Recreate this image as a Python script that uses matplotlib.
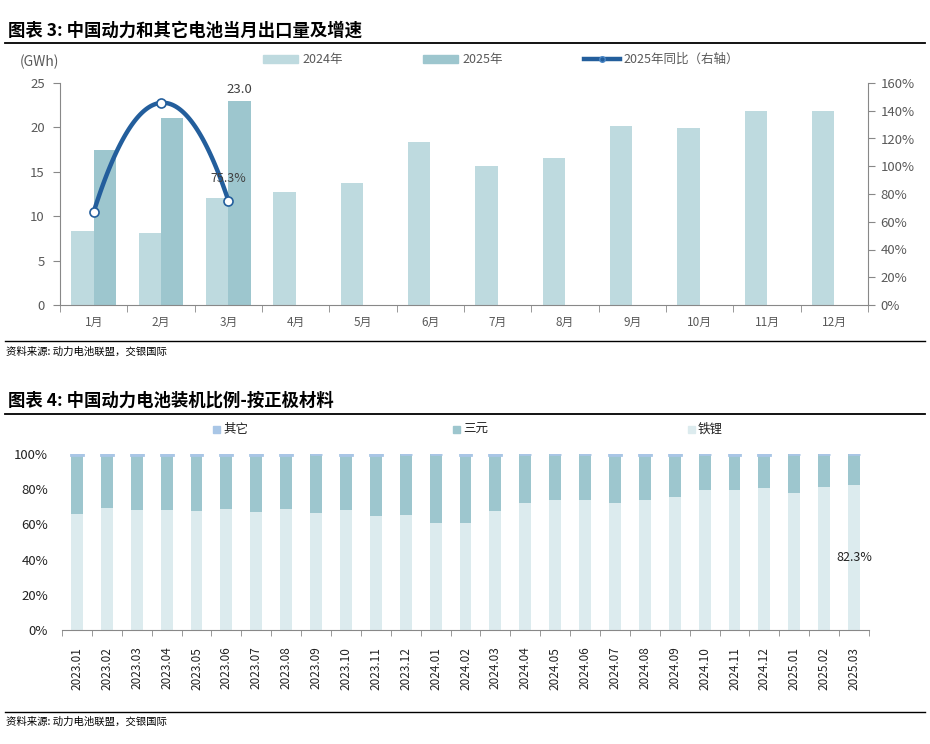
import numpy as np
import matplotlib
matplotlib.use("Agg")
import matplotlib.pyplot as plt
from matplotlib.patches import Rectangle
from matplotlib.lines import Line2D

plt.rcParams['font.family'] = ['Noto Sans CJK SC', 'DejaVu Sans']

# ---------------- data ----------------
months = ['1月', '2月', '3月', '4月', '5月', '6月', '7月', '8月', '9月', '10月', '11月', '12月']
exp_2024 = [8.3, 8.1, 12.1, 12.7, 13.7, 18.4, 15.6, 16.6, 20.2, 19.9, 21.9, 21.9]
exp_2025 = [17.5, 21.1, 23.0]
yoy_2025 = [67.0, 145.7, 75.3]

periods = ['2023.01', '2023.02', '2023.03', '2023.04', '2023.05', '2023.06', '2023.07',
           '2023.08', '2023.09', '2023.10', '2023.11', '2023.12', '2024.01', '2024.02',
           '2024.03', '2024.04', '2024.05', '2024.06', '2024.07', '2024.08', '2024.09',
           '2024.10', '2024.11', '2024.12', '2025.01', '2025.02', '2025.03']
lfp = [66.1, 69.3, 68.2, 68.2, 67.6, 68.8, 67.0, 68.8, 66.5, 68.2, 64.8, 65.3, 60.8, 60.8,
       67.6, 72.2, 73.9, 73.9, 72.2, 73.9, 75.6, 79.5, 79.5, 80.7, 77.8, 81.3, 82.3]
other = [0.6, 0.6, 0.6, 0.6, 0.6, 0.6, 0.6, 0.6, 0.1, 0.6, 0.6, 0.1, 0.1, 0.6,
         0.6, 0.1, 0.1, 0.1, 0.6, 0.6, 0.6, 0.1, 0.6, 0.6, 0.1, 0.1, 0.1]
ncm = [100 - a - b for a, b in zip(lfp, other)]

C24 = '#BEDADF'
C25 = '#9DC6CE'
CLINE = '#235E9C'
CLFP = '#DCEBEE'
CNCM = '#9DC6CE'
COTH = '#A9C6E6'
TXT = '#595959'

W, H = 930, 744
fig = plt.figure(figsize=(W / 100, H / 100), dpi=100)

def fx(px):
    return px / W

def fy(py):
    return 1 - py / H

def hline(py, x0=5, x1=925, lw=1.3):
    fig.add_artist(Line2D([fx(x0), fx(x1)], [fy(py), fy(py)], color='black', lw=lw))

# ---------------- titles / separators ----------------
fig.text(fx(8), fy(31), '图表 3: 中国动力和其它电池当月出口量及增速', fontsize=12.5,
         fontweight='bold', va='center', ha='left', color='black')
hline(43)
hline(341, lw=1.0)
fig.text(fx(6), fy(352), '资料来源: 动力电池联盟，交银国际', fontsize=7.5, style='italic',
         va='center', ha='left', color='black')
fig.text(fx(8), fy(401), '图表 4: 中国动力电池装机比例-按正极材料', fontsize=12.5,
         fontweight='bold', va='center', ha='left', color='black')
hline(414)
hline(712, lw=1.0)
fig.text(fx(6), fy(722), '资料来源: 动力电池联盟，交银国际', fontsize=7.5, style='italic',
         va='center', ha='left', color='black')

# ---------------- chart 1 ----------------
ax1 = fig.add_axes([fx(60), fy(305), fx(868) - fx(60), fy(83) - fy(305)])
x = np.arange(len(months))
bw = 0.33
ax1.bar(x - bw / 2, exp_2024, width=bw, color=C24, zorder=2)
x25 = np.arange(len(exp_2025))
ax1.bar(x25 + bw / 2, exp_2025, width=bw, color=C25, zorder=2)
ax1.set_xlim(-0.5, len(months) - 0.5)
ax1.set_ylim(0, 25)
ax1.set_yticks([0, 5, 10, 15, 20, 25])
ax1.set_xticks(x)
ax1.set_xticklabels(months)
ax1.set_xticks(np.arange(-0.5, len(months)), minor=True)
ax1.tick_params(axis='x', which='major', length=0, pad=8, labelsize=8.5, labelcolor=TXT)
ax1.tick_params(axis='x', which='minor', length=5, color='#888888', direction='out')
ax1.tick_params(axis='y', length=5, color='#888888', labelsize=9.5, labelcolor=TXT, pad=6)
for s in ['top', 'right']:
    ax1.spines[s].set_visible(False)
ax1.spines['left'].set_color('#888888')
ax1.spines['bottom'].set_color('#888888')
ax1.text(x25[-1] + bw / 2, exp_2025[-1] + 0.5, f'{exp_2025[-1]:.1f}', ha='center', va='bottom',
         fontsize=9.5, color='#404040')
fig.text(fx(20), fy(62), '(GWh)', fontsize=10, color=TXT, va='center', ha='left')

ax2 = ax1.twinx()
ax2.set_ylim(0, 160)
ax2.set_yticks(np.arange(0, 161, 20))
ax2.set_yticklabels([f'{v}%' for v in range(0, 161, 20)])
ax2.tick_params(axis='y', length=5, color='#888888', labelsize=9.5, labelcolor=TXT, pad=4)
for s in ['top', 'left', 'bottom']:
    ax2.spines[s].set_visible(False)
ax2.spines['right'].set_color('#888888')
# smooth curve through the three points (quadratic)
coef = np.polyfit(x25, yoy_2025, 2)
xs = np.linspace(x25[0], x25[-1], 100)
ax2.plot(xs, np.polyval(coef, xs), color=CLINE, lw=3.2, zorder=3, solid_capstyle='round')
ax2.plot(x25, yoy_2025, 'o', ms=6.5, mfc='white', mec=CLINE, mew=1.2, zorder=4)
ax2.text(x25[-1], yoy_2025[-1] + 11, f'{yoy_2025[-1]:.1f}%', ha='center', va='bottom',
         fontsize=9, color='#404040', zorder=5)

# legend chart 1
def leg_patch(px, py, w, h, color):
    fig.add_artist(Rectangle((fx(px), fy(py + h / 2)), w / W, h / H, color=color,
                             transform=fig.transFigure))

leg_patch(263, 59, 35, 8, C24)
fig.text(fx(302), fy(59), '2024年', fontsize=9, color=TXT, va='center', ha='left')
leg_patch(423, 59, 35, 8, C25)
fig.text(fx(462), fy(59), '2025年', fontsize=9, color=TXT, va='center', ha='left')
fig.add_artist(Line2D([fx(584), fx(620)], [fy(59), fy(59)], color=CLINE, lw=3.2))
fig.add_artist(Line2D([fx(602)], [fy(59)], marker='o', ms=4, mfc=CLINE, mec='#4a86c5',
                      color=CLINE))
fig.text(fx(623), fy(59), '2025年同比（右轴）', fontsize=9, color=TXT, va='center', ha='left')

# ---------------- chart 2 ----------------
ax3 = fig.add_axes([fx(62), fy(630), fx(869) - fx(62), fy(454) - fy(630)])
xp = np.arange(len(periods))
bw2 = 0.4
ax3.bar(xp, lfp, width=bw2, color=CLFP, zorder=2)
ax3.bar(xp, ncm, width=bw2, bottom=lfp, color=CNCM, zorder=2)
bot = [a + b for a, b in zip(lfp, ncm)]
ax3.bar(xp, other, width=bw2, bottom=bot, color=COTH, edgecolor=COTH, lw=2.0, zorder=3)
ax3.set_xlim(-0.5, len(periods) - 0.5)
ax3.set_ylim(0, 100)
ax3.set_yticks(np.arange(0, 101, 20))
ax3.set_yticklabels([f'{v}%' for v in range(0, 101, 20)])
ax3.set_xticks(xp)
ax3.set_xticklabels(periods, rotation=90)
ax3.set_xticks(np.arange(-0.5, len(periods)), minor=True)
ax3.tick_params(axis='x', which='major', length=0, pad=12, labelsize=8.5, labelcolor='#222222')
ax3.tick_params(axis='x', which='minor', length=4, color='#888888', direction='out')
ax3.tick_params(axis='y', length=0, labelsize=9.5, labelcolor='#222222', pad=10)
for s in ['top', 'right', 'left']:
    ax3.spines[s].set_visible(False)
ax3.spines['bottom'].set_color('#888888')
ax3.text(xp[-1], lfp[-1] / 2, f'{lfp[-1]:.1f}%', ha='center', va='center', fontsize=9,
         color='#222222', zorder=5)

leg_patch(213, 429, 7, 7, COTH)
fig.text(fx(223), fy(429), '其它', fontsize=9, color='#222222', va='center', ha='left')
leg_patch(453, 429, 7, 7, CNCM)
fig.text(fx(463), fy(429), '三元', fontsize=9, color='#222222', va='center', ha='left')
leg_patch(688, 429, 7, 7, CLFP)
fig.text(fx(698), fy(429), '铁锂', fontsize=9, color='#222222', va='center', ha='left')

fig.savefig('out.png', dpi=100)
